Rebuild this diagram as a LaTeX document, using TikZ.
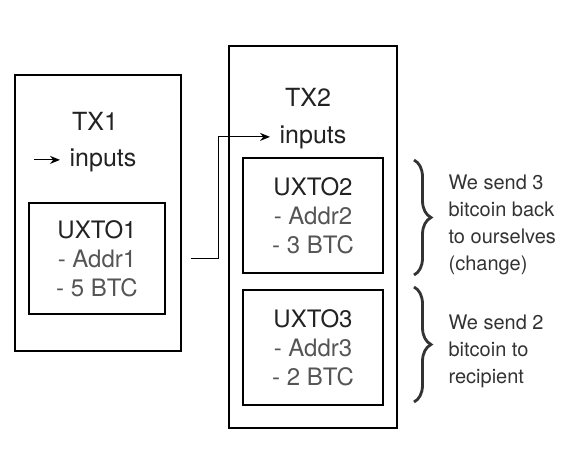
\documentclass[tikz,border=0pt]{standalone}
\usepackage{fontspec}
\setmainfont{TeX Gyre Heros}
\usetikzlibrary{positioning,arrows.meta,decorations.pathreplacing}
\definecolor{ink}{HTML}{222222}
\definecolor{grayink}{HTML}{555555}
\definecolor{noteink}{HTML}{333333}

\begin{document}
\begin{tikzpicture}[x=1pt,y=-1pt,line width=1.2pt,>={Stealth[length=10pt,width=8pt]}]
    \tikzset{txbox/.style={draw,rectangle,inner sep=0pt},
             utxobox/.style={draw,rectangle,inner sep=0pt,align=center,text=grayink,font=\fontsize{24}{29}\selectfont},
             title/.style={text=ink,inner ysep=0pt,inner xsep=9pt,font=\fontsize{25}{30}\selectfont},
             note/.style={text=noteink,align=left,inner sep=0pt,font=\fontsize{20}{27}\selectfont},
             curly/.style={decorate,decoration={brace,amplitude=17pt},line width=2.8pt,draw=noteink}}
    \useasboundingbox (0,0) rectangle (572,456);
    % first transaction
    \node[txbox,minimum width=166pt,minimum height=276pt] (tx1) at (98,213) {};
    \node[title,anchor=base] (tx1lbl) at (95,130) {TX1};
    \node[title,anchor=base west] (in1) at (60,166) {inputs};
    \node[utxobox,minimum width=136pt,minimum height=111pt] (utxo1) at (97,258.5)
        {\textcolor{ink}{UXTO1}\\- Addr1\\- 5 BTC};
    \coordinate[left=26pt of in1.west] (in1tail);
    % second transaction
    \node[txbox,minimum width=168pt,minimum height=382pt] (tx2) at (313,237) {};
    \node[title,anchor=base] (tx2lbl) at (308,106) {TX2};
    \node[title,anchor=base west] (in2) at (270,143) {inputs};
    \node[utxobox,minimum width=140pt,minimum height=115pt] (utxo2) at (313,215.5)
        {\textcolor{ink}{UXTO2}\\- Addr2\\- 3 BTC};
    \node[utxobox,minimum width=140pt,minimum height=115pt] (utxo3) at (313,347.5)
        {\textcolor{ink}{UXTO3}\\- Addr3\\- 2 BTC};
    % notes
    \coordinate (b1top) at (414,160);
    \coordinate (b1bot) at (414,275);
    \coordinate (b2top) at (414,287);
    \coordinate (b2bot) at (414,402);
    \node[note,anchor=west] (note1) at (448,225) {We send 3\\bitcoin back\\to ourselves\\(change)};
    \node[note,anchor=west] (note2) at (448,351) {We send 2\\bitcoin to\\recipient};

    \draw[->] (in1tail) -- (in1.west);
    \draw[->,shorten <=9pt] (tx1.east |- utxo1.east) -- ++(37,0) |- (in2.west);
    \draw[curly] (b1top) -- (b1bot);
    \draw[curly] (b2top) -- (b2bot);
\end{tikzpicture}
\end{document}
